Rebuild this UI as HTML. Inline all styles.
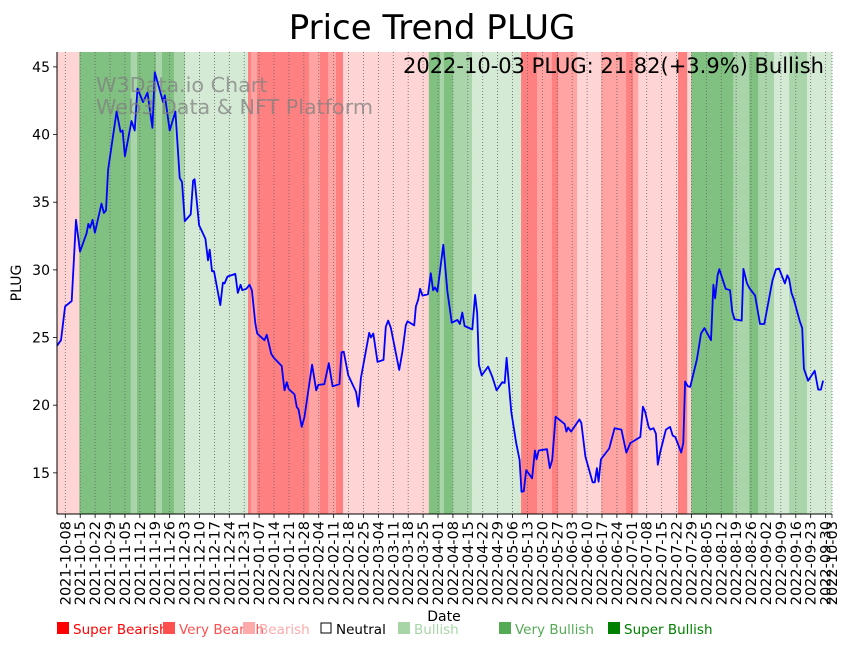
<!DOCTYPE html>
<html><head><meta charset="utf-8"><style>
html,body{margin:0;padding:0;background:#fff;}
svg{display:block;font-family:"DejaVu Sans","Liberation Sans",sans-serif;}
</style></head><body>
<svg id="chart" width="851" height="646" viewBox="0 0 851 646"></svg>
<script>
// ---- data ----
const startDate = "2021-10-08"; // day 0
const dayIndex = [-3.9,-2.0,-0.1,3.0,5.0,6.9,10.0,10.8,11.6,12.8,13.9,17.0,18.1,19.1,20.1,24.1,25.9,26.9,28.0,31.1,32.6,33.9,36.5,38.6,40.9,42.0,45.9,46.7,49.0,51.7,53.7,54.8,56.1,58.9,60.0,60.7,62.8,65.8,67.0,67.8,68.9,69.8,72.8,74.0,74.8,76.1,79.8,81.0,82.3,83.1,85.0,86.5,87.6,89.2,90.1,93.5,94.6,96.7,97.9,101.6,102.9,104.0,104.9,107.6,108.7,109.5,111.0,112.3,115.9,117.8,118.8,121.6,123.7,125.5,128.7,129.7,130.7,132.9,136.5,137.6,138.8,142.7,143.5,144.6,146.6,149.4,150.5,151.6,152.9,156.8,158.3,159.9,160.7,163.8,164.6,165.7,166.6,167.7,170.3,171.6,172.7,173.6,174.7,177.5,179.4,181.5,184.1,185.3,186.4,187.5,191.1,192.4,193.4,194.2,195.5,198.5,200.5,202.5,205.2,206.3,207.2,209.4,211.7,213.3,214.2,215.3,216.4,219.2,220.5,221.3,222.3,226.2,227.5,228.6,230.2,234.5,235.3,236.1,237.5,241.4,242.3,244.2,247.6,248.6,249.6,250.4,251.5,255.4,257.9,261.1,263.4,265.3,270.0,271.2,272.3,273.9,274.7,276.2,277.3,278.2,279.3,282.0,284.0,285.2,286.4,289.2,290.2,291.0,292.3,293.4,296.5,297.3,298.5,300.1,303.2,304.3,305.1,306.3,307.1,310.1,312.1,313.2,314.2,317.6,318.4,320.1,321.2,323.9,326.2,328.2,332.0,333.7,335.1,337.9,339.0,339.9,341.0,342.1,344.9,346.0,346.8,348.8,351.9,353.5,354.8,355.8,359.0];
const prices = [24.4,24.8,27.3,27.7,33.7,31.35,32.7,33.4,33.1,33.7,32.75,34.9,34.2,34.4,37.4,41.7,40.2,40.3,38.4,41.0,40.3,43.4,42.4,43.1,40.5,44.6,42.4,42.9,40.3,41.7,36.8,36.5,33.6,34.1,36.6,36.7,33.3,32.3,30.7,31.5,29.9,29.9,27.4,29.05,29.0,29.5,29.7,28.3,28.9,28.5,28.6,28.9,28.5,26.05,25.3,24.8,25.2,23.8,23.5,22.9,21.1,21.7,21.2,20.8,19.85,19.7,18.4,19.15,23.0,21.1,21.5,21.55,23.1,21.4,21.55,23.9,23.95,22.2,21.0,19.9,22.0,25.35,25.0,25.3,23.2,23.35,25.8,26.25,25.7,22.6,23.95,25.9,26.2,25.9,27.3,27.8,28.6,28.1,28.2,29.75,28.5,28.7,28.4,31.85,28.4,26.1,26.3,26.0,26.85,25.85,25.6,28.15,26.8,23.0,22.2,22.85,22.1,21.1,21.7,21.65,23.5,19.5,17.2,15.95,13.6,13.65,15.2,14.6,16.65,16.0,16.65,16.75,15.35,15.95,19.15,18.6,18.05,18.35,18.05,18.95,18.7,16.2,14.3,14.3,15.35,14.35,16.0,16.8,18.3,18.2,16.5,17.2,17.65,19.9,19.5,18.4,18.2,18.3,17.9,15.6,16.5,18.2,18.4,17.75,17.65,16.5,17.2,21.75,21.4,21.35,23.35,24.1,25.3,25.7,24.8,28.9,27.9,29.6,30.05,28.6,28.5,26.9,26.35,26.25,30.07,29.0,28.65,28.1,26.0,26.0,29.2,30.05,30.1,29.0,29.6,29.3,28.3,27.8,26.2,25.7,22.7,21.8,22.55,21.15,21.15,21.82];
const bandStarts = [-3.9,6.6,30.7,33.7,42.6,45.4,51.0,56.2,85.8,87.2,90.0,114.4,119.6,123.4,127.1,130.4,170.7,175.9,177.8,182.0,191.0,214.0,221.5,228.5,231.4,240.3,251.6,263.3,266.6,269.0,287.7,292.0,293.9,313.6,321.1,325.3,332.8,339.9,348.3];
const bandLevels = [-1,3,2,3,2,3,2,1,-3,-2,-3,-2,-3,-2,-3,-1,3,2,3,2,1,-3,-2,-3,-2,-1,-2,-3,-2,-1,-3,-1,3,2,3,2,1,2,1];
const bandEnd = 360;
const yTicks = [15,20,25,30,35,40,45];
const legendLabels = ["Super Bearish","Very Bearish","Bearish","Neutral","Bullish","Very Bullish","Super Bullish"];

// ---- scales ----
const X0=57,X1=832,Y0=52,Y1=514;
const dMin=-3.9,dMax=360,vMin=11.96,vMax=46.1;
const xs=d=>X0+(d-dMin)/(dMax-dMin)*(X1-X0);
const ys=v=>Y1-(v-vMin)/(vMax-vMin)*(Y1-Y0);
const NS="http://www.w3.org/2000/svg";
const svg=document.getElementById('chart');
function mk(tag,attrs,parent){const e=document.createElementNS(NS,tag);for(const k in attrs)e.setAttribute(k,attrs[k]);(parent||svg).appendChild(e);return e;}
const bandColor={"-3":"#ff8080","-2":"#ffa3a3","-1":"#ffd4d4","0":"#ffffff","1":"#d4ead4","2":"#aad4aa","3":"#80c080"};

const gB=mk('g',{});


bandStarts.forEach((s,i)=>{
  const e=i+1<bandStarts.length?bandStarts[i+1]:bandEnd;
  const r=mk('rect',{x:xs(s),y:Y0,width:xs(e)-xs(s)+0.3,height:Y1-Y0,fill:bandColor[bandLevels[i]]},gB);
  
  
});

function addDays(ds,n){const d=new Date(ds+"T00:00:00Z");d.setUTCDate(d.getUTCDate()+n);return d.toISOString().slice(0,10);}
const tickDays=[];for(let d=0;d<=357;d+=7)tickDays.push(d);tickDays.push(360);

const gX=mk('g',{});


tickDays.forEach(d=>{
  const x=xs(d);
  const gl=mk('line',{x1:x,x2:x,y1:Y0,y2:Y1,stroke:'#666','stroke-width':0.8,'stroke-dasharray':'1,2'},gX);
  
  
  mk('line',{x1:x,x2:x,y1:Y1,y2:Y1+4,stroke:'#000','stroke-width':0.8},gX);
  const t=mk('text',{x:0,y:0,'font-size':14.5,'text-anchor':'end','transform':`translate(${x+5},${Y1+7}) rotate(-90)`},gX);
  t.textContent=addDays(startDate,d);
  
  
});

const gY=mk('g',{});


yTicks.forEach(v=>{
  const y=ys(v);
  mk('line',{x1:X0-4,x2:X0,y1:y,y2:y,stroke:'#000','stroke-width':0.8},gY);
  const t=mk('text',{x:X0-7,y:y+5,'font-size':14,'text-anchor':'end'},gY);
  t.textContent=v;
  
  
});

const pts=dayIndex.map((d,i)=>xs(d).toFixed(1)+','+ys(prices[i]).toFixed(1)).join(' ');
const pl=mk('polyline',{points:pts,fill:'none',stroke:'#0000ff','stroke-width':1.8,'stroke-linejoin':'round'});



mk('line',{x1:X0,x2:X0,y1:Y0,y2:Y1,stroke:'#000','stroke-width':1});
mk('line',{x1:X0,x2:X1,y1:Y1,y2:Y1,stroke:'#000','stroke-width':1});

function txt(s,attrs,name){const t=mk('text',attrs);t.textContent=s;return t;}
txt('Price Trend PLUG',{x:432,y:39,'font-size':34,'text-anchor':'middle'},'chart-title');
txt('2022-10-03 PLUG: 21.82(+3.9%) Bullish',{x:824,y:73,'font-size':21,'text-anchor':'end'},'latest-price-annotation');
txt('W3Data.io Chart',{x:96,y:92,'font-size':20.7,fill:'#808080','fill-opacity':0.75},'watermark-line1');
txt('Web3 Data & NFT Platform',{x:96,y:114,'font-size':20.7,fill:'#808080','fill-opacity':0.75},'watermark-line2');
txt('PLUG',{x:0,y:0,'font-size':14,'text-anchor':'middle',transform:'translate(21,283) rotate(-90)'},'y-axis-title');
txt('Date',{x:444,y:621,'font-size':14,'text-anchor':'middle'},'x-axis-title');

const legX=[57,163,243,320,398,499,608];
const legC=["#ff0000","#ff5050","#ffaaaa","#000000","#a8d5a8","#55aa55","#008000"];
legendLabels.forEach((l,i)=>{
  const g=mk('g',{});
  
  
  if(i===3) mk('rect',{x:legX[i]+1,y:623,width:10,height:10,fill:'#fff',stroke:'#000','stroke-width':1},g);
  else mk('rect',{x:legX[i],y:622,width:12,height:12,fill:legC[i]},g);
  const t=mk('text',{x:legX[i]+16,y:634,'font-size':13.5,fill:legC[i]},g);
  t.textContent=l;
});
</script>
</body></html>
